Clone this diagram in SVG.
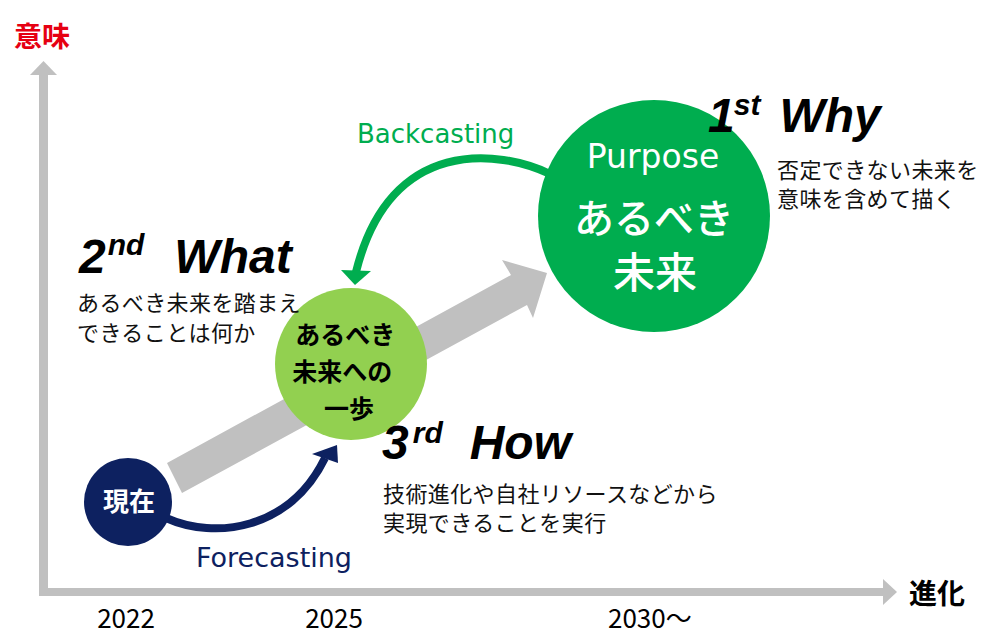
<svg xmlns="http://www.w3.org/2000/svg" width="1000" height="643" viewBox="0 0 1000 643">
<style>
.jp{font-family:"Noto Sans CJK JP","Noto Sans",sans-serif;}
.body{font-family:"Noto Sans CJK JP","Noto Sans",sans-serif;font-size:22px;fill:#111;letter-spacing:0.4px;}
.lat{font-family:"DejaVu Sans","Noto Sans",sans-serif;}
.head{font-family:"Liberation Sans",Arial,sans-serif;font-weight:bold;font-style:italic;fill:#000;}
.sup{font-size:30px;}
.year{font-family:"Noto Sans CJK JP","Noto Sans",sans-serif;font-size:26px;fill:#000;}
</style>
<rect width="1000" height="643" fill="#fff"/>
<g id="axes">
  <rect x="39" y="74" width="9" height="522" fill="#c0c0c0"/>
  <polygon points="43.5,61 57,75 30,75" fill="#c0c0c0"/>
  <rect x="39" y="588" width="846" height="8" fill="#c0c0c0"/>
  <polygon points="897,592 883,579 883,605" fill="#c0c0c0"/>
  <text x="14" y="47" class="jp" font-size="28" font-weight="bold" fill="#e60012">意味</text>
  <text x="909" y="604" class="jp" font-size="28" font-weight="bold" fill="#000">進化</text>
  <text x="126" y="628" class="year" text-anchor="middle">2022</text>
  <text x="334" y="628" class="year" text-anchor="middle">2025</text>
  <text x="608" y="628" class="year">2030〜</text>
</g>
<g id="progress-arrow">
  <polygon points="167,463 511,275 502,260 547,273 533,318 527,305 182,493" fill="#c0c0c0"/>
</g>
<g id="connectors" fill="none">
  <path d="M 550 174 C 500 150, 390 135, 356 272" stroke="#00ad4f" stroke-width="8"/>
  <polygon points="355,285 341,270 371,271" fill="#00ad4f"/>
  <path d="M 166 518 C 215 540, 290 530, 325 458" stroke="#0d2160" stroke-width="8"/>
  <polygon points="337,445 312,454 338,463" fill="#0d2160"/>
  <text x="357" y="143" class="lat" font-size="26" fill="#00ad4f">Backcasting</text>
  <text x="196" y="567" class="lat" font-size="27" fill="#0d2160">Forecasting</text>
</g>
<g id="node-now">
  <circle cx="128" cy="502" r="44" fill="#0d2160"/>
  <text x="129" y="511" class="jp" font-size="26" font-weight="bold" fill="#fff" text-anchor="middle">現在</text>
</g>
<g id="node-step">
  <circle cx="351" cy="364" r="76" fill="#92d050"/>
  <text class="jp" font-size="25" font-weight="bold" fill="#000" text-anchor="middle">
    <tspan x="348" y="344">あるべき</tspan>
    <tspan x="345" y="381">未来への</tspan>
    <tspan x="349" y="418">一歩</tspan>
  </text>
</g>
<g id="node-purpose">
  <circle cx="654" cy="216" r="116" fill="#00ad4f"/>
  <text x="653" y="168" class="lat" font-size="33" fill="#fff" text-anchor="middle">Purpose</text>
  <text x="654" y="233" class="jp" font-size="40" font-weight="500" fill="#fff" text-anchor="middle">あるべき</text>
  <text x="655" y="288" class="jp" font-size="42" font-weight="500" fill="#fff" text-anchor="middle">未来</text>
</g>
<g id="label-why">
  <text x="708" y="132" class="head" font-size="48">1<tspan class="sup" dy="-17" dx="-1">st</tspan><tspan dy="17" dx="19">Why</tspan></text>
  <text class="body"><tspan x="777" y="178">否定できない未来を</tspan><tspan x="777" y="207">意味を含めて描く</tspan></text>
</g>
<g id="label-what">
  <text x="79" y="273" class="head" font-size="48">2<tspan class="sup" dy="-18" dx="2">nd</tspan><tspan dy="18" dx="30">What</tspan></text>
  <text class="body"><tspan x="77" y="311">あるべき未来を踏まえ</tspan><tspan x="77" y="341">できることは何か</tspan></text>
</g>
<g id="label-how">
  <text x="382" y="459" class="head" font-size="48">3<tspan class="sup" dy="-16" dx="4">rd</tspan><tspan dy="16" dx="27">How</tspan></text>
  <text class="body"><tspan x="383" y="502">技術進化や自社リソースなどから</tspan><tspan x="383" y="531">実現できることを実行</tspan></text>
</g>
</svg>
